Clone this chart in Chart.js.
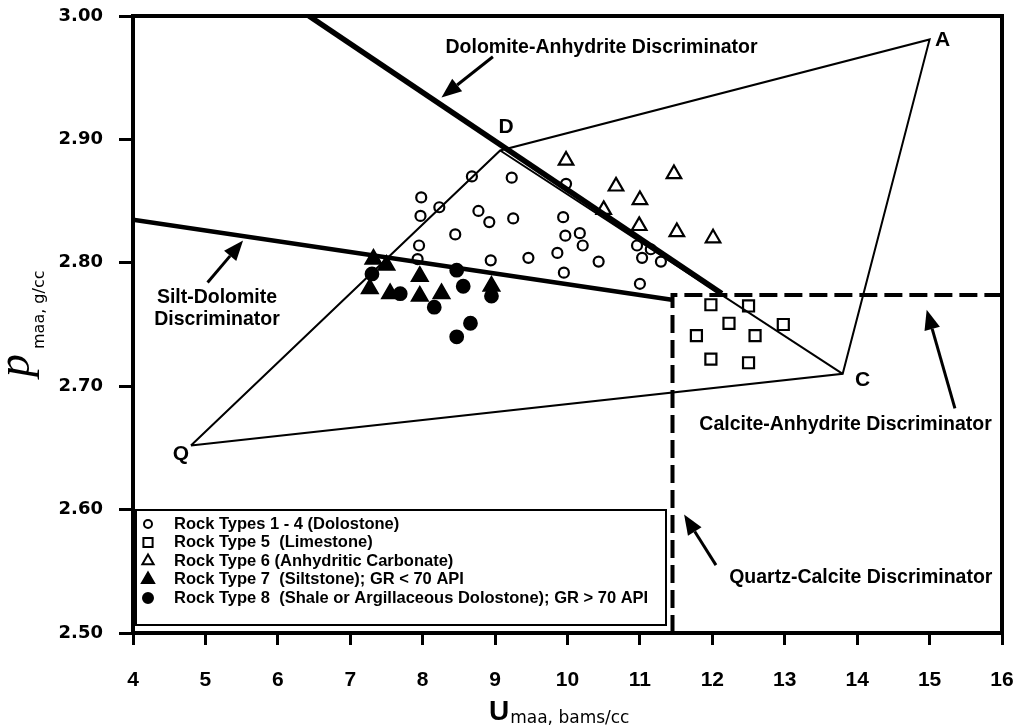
<!DOCTYPE html>
<html>
<head>
<meta charset="utf-8">
<script src="https://cdn.jsdelivr.net/npm/chart.js@4.4.1/dist/chart.umd.min.js"></script>
<style>
  html, body { margin: 0; padding: 0; background: #fff; }
</style>
</head>
<body>
<canvas id="myChart" width="1019" height="728"></canvas>
<script>
// Umaa (barns/cc) and rho_maa (g/cc) for each rock type
const dolostoneU = [8.68, 9.23, 7.98, 8.23, 7.97, 8.77, 8.92, 9.25, 8.45, 7.95, 7.93, 8.94, 9.46, 9.94,
  9.97, 10.17, 10.21, 9.86, 9.95, 10.43, 9.98, 10.96, 11.03, 11.15, 11.29, 11.00];
const dolostoneRho = [2.870, 2.869, 2.853, 2.845, 2.838, 2.842, 2.833, 2.836, 2.823, 2.814, 2.803, 2.802, 2.804, 2.837,
  2.822, 2.824, 2.814, 2.808, 2.792, 2.801, 2.864, 2.814, 2.804, 2.811, 2.801, 2.783];

const limestoneU = [11.98, 12.50, 12.23, 12.98, 11.78, 12.59, 11.98, 12.50];
const limestoneRho = [2.766, 2.765, 2.751, 2.750, 2.741, 2.741, 2.722, 2.719];

const anhydriticU = [9.98, 11.47, 10.67, 11.00, 10.50, 10.99, 11.51, 12.01];
const anhydriticRho = [2.883, 2.872, 2.862, 2.851, 2.843, 2.830, 2.825, 2.820];

const siltstoneU = [7.32, 7.50, 7.27, 7.55, 7.96, 7.96, 8.26, 8.95];
const siltstoneRho = [2.803, 2.798, 2.779, 2.775, 2.789, 2.773, 2.775, 2.781];

const shaleU = [7.30, 7.69, 8.16, 8.47, 8.56, 8.95, 8.66, 8.47];
const shaleRho = [2.791, 2.775, 2.764, 2.794, 2.781, 2.773, 2.751, 2.740];

// mineral end members: quartz, dolomite, anhydrite, calcite
const vertexNames = ['Q', 'D', 'A', 'C'];
const vertexU = [4.8, 9.07, 15.0, 13.8];
const vertexRho = [2.652, 2.891, 2.981, 2.710];

// discriminator lines
const dolAnhU = [6.43, 12.13];
const dolAnhRho = [3.00, 2.775];
const siltDolU = [4.0, 11.44];
const siltDolRho = [2.835, 2.770];
const cutoffU = [11.45, 11.45, 16.0];
const cutoffRho = [2.50, 2.774, 2.774];

const xTickValues = [4, 5, 6, 7, 8, 9, 10, 11, 12, 13, 14, 15, 16];
const xTickLabels = ['4', '5', '6', '7', '8', '9', '10', '11', '12', '13', '14', '15', '16'];
const yTickValues = [2.5, 2.6, 2.7, 2.8, 2.9, 3.0];
const yTickLabels = ['2.50', '2.60', '2.70', '2.80', '2.90', '3.00'];

const pairs = (us, rs) => us.map((u, i) => ({ x: u, y: rs[i] }));
const pick = (arr, idx) => idx.map(i => arr[i]);

function lineSet(us, rs, width, dash) {
  return {
    data: pairs(us, rs),
    showLine: true,
    borderColor: '#000',
    borderWidth: width,
    borderDash: dash || [],
    pointRadius: 0,
    fill: false,
    tension: 0,
    order: 0,
  };
}

function rockSet(label, us, rs, style, radius, filled, legendRadius) {
  return {
    label,
    data: pairs(us, rs),
    pointStyle: style,
    pointRadius: radius,
    pointBorderWidth: 2.2,
    pointBorderColor: '#000',
    pointBackgroundColor: filled ? '#000' : 'rgba(0,0,0,0)',
    showLine: false,
    order: 1,
    rock: { style, filled, legendRadius },
  };
}

const datasets = [
  rockSet('Rock Types 1 - 4 (Dolostone)', dolostoneU, dolostoneRho, 'circle', 5, false, 4),
  rockSet('Rock Type 5  (Limestone)', limestoneU, limestoneRho, 'rect', 7.8, false, 6.5),
  rockSet('Rock Type 6 (Anhydritic Carbonate)', anhydriticU, anhydriticRho, 'triangle', 8.4, false, 6.5),
  rockSet('Rock Type 7  (Siltstone); GR < 70 API', siltstoneU, siltstoneRho, 'triangle', 9, true, 7),
  rockSet('Rock Type 8  (Shale or Argillaceous Dolostone); GR > 70 API', shaleU, shaleRho, 'circle', 6.3, true, 5),
  lineSet(pick(vertexU, [0, 1, 2, 3, 0]), pick(vertexRho, [0, 1, 2, 3, 0]), 2),
  lineSet(pick(vertexU, [1, 3]), pick(vertexRho, [1, 3]), 2),
  lineSet(dolAnhU, dolAnhRho, 5.5),
  lineSet(siltDolU, siltDolRho, 4.5),
  lineSet(cutoffU, cutoffRho, 4, [18, 7]),
];

// text callouts and arrows, placed in data units
const notes = [
  { lines: ['Dolomite-Anhydrite Discriminator'], u: 10.47, rho: 2.974 },
  { lines: ['Silt-Dolomite', 'Discriminator'], u: 5.16, rho: 2.772 },
  { lines: ['Calcite-Anhydrite Discriminator'], u: 13.84, rho: 2.669 },
  { lines: ['Quartz-Calcite Discriminator'], u: 14.05, rho: 2.545 },
];
const arrows = [
  { from: [8.97, 2.967], to: [8.26, 2.934] },
  { from: [5.03, 2.784], to: [5.52, 2.818] },
  { from: [15.35, 2.682], to: [14.96, 2.762] },
  { from: [12.05, 2.555], to: [11.61, 2.596] },
];
const vertexLabelOffsets = [[-10, 9], [6, -23], [13, 1], [20, 6]];

const NOTE_FONT = 'bold 19.5px "Liberation Sans", Arial, sans-serif';

function marker(ctx, style, x, y, r, filled) {
  ctx.beginPath();
  if (style === 'circle') {
    ctx.arc(x, y, r, 0, Math.PI * 2);
  } else if (style === 'rect') {
    const s = r * Math.SQRT1_2;
    ctx.rect(x - s, y - s, 2 * s, 2 * s);
  } else {
    ctx.moveTo(x, y - r);
    ctx.lineTo(x + r * 0.866, y + r / 2);
    ctx.lineTo(x - r * 0.866, y + r / 2);
    ctx.closePath();
  }
  if (filled) ctx.fill();
  ctx.stroke();
}

function arrow(ctx, x1, y1, x2, y2) {
  const ang = Math.atan2(y2 - y1, x2 - x1);
  const len = 20, half = 8;
  const bx = x2 - Math.cos(ang) * len, by = y2 - Math.sin(ang) * len;
  ctx.lineWidth = 3;
  ctx.beginPath();
  ctx.moveTo(x1, y1);
  ctx.lineTo(bx, by);
  ctx.stroke();
  ctx.beginPath();
  ctx.moveTo(x2, y2);
  ctx.lineTo(bx + Math.sin(ang) * half, by - Math.cos(ang) * half);
  ctx.lineTo(bx - Math.sin(ang) * half, by + Math.cos(ang) * half);
  ctx.closePath();
  ctx.fill();
}

const decorations = {
  id: 'decorations',
  afterDraw(chart) {
    const { ctx, chartArea: area, scales: { x, y } } = chart;
    ctx.save();
    ctx.strokeStyle = '#000';
    ctx.fillStyle = '#000';

    // plot frame
    ctx.lineWidth = 4;
    ctx.strokeRect(area.left, area.top, area.right - area.left, area.bottom - area.top);

    // end member letters
    ctx.font = 'bold 21px "Liberation Sans", Arial, sans-serif';
    ctx.textAlign = 'center';
    ctx.textBaseline = 'middle';
    vertexNames.forEach((name, i) => {
      const [dx, dy] = vertexLabelOffsets[i];
      ctx.fillText(name, x.getPixelForValue(vertexU[i]) + dx, y.getPixelForValue(vertexRho[i]) + dy);
    });

    // discriminator callouts
    ctx.font = NOTE_FONT;
    notes.forEach(n => {
      const px = x.getPixelForValue(n.u);
      const py = y.getPixelForValue(n.rho);
      n.lines.forEach((t, k) => ctx.fillText(t, px, py + k * 22));
    });
    arrows.forEach(a => arrow(ctx,
      x.getPixelForValue(a.from[0]), y.getPixelForValue(a.from[1]),
      x.getPixelForValue(a.to[0]), y.getPixelForValue(a.to[1])));

    // legend box
    const lx = area.left + 3, ly = 510, lw = 530, lh = 115;
    ctx.fillStyle = '#fff';
    ctx.fillRect(lx, ly, lw, lh);
    ctx.lineWidth = 2;
    ctx.strokeRect(lx, ly, lw, lh);
    ctx.fillStyle = '#000';
    ctx.font = 'bold 16.5px "Liberation Sans", Arial, sans-serif';
    ctx.textAlign = 'left';
    chart.data.datasets.filter(d => d.rock).forEach((d, i) => {
      const ry = ly + 14 + i * 18.5;
      ctx.lineWidth = 2;
      marker(ctx, d.rock.style, lx + 12, ry, d.rock.legendRadius, d.rock.filled);
      ctx.fillText(d.label, lx + 38, ry);
    });

    // x axis title: U with subscript
    ctx.textBaseline = 'alphabetic';
    ctx.font = 'bold 28px "Liberation Sans", Arial, sans-serif';
    ctx.fillText('U', 489, 720);
    const uw = ctx.measureText('U').width;
    ctx.font = '17px "DejaVu Sans", sans-serif';
    ctx.fillText('maa, bams/cc', 489 + uw + 1, 723);

    // y axis title: rho with subscript, rotated
    ctx.translate(29, 377);
    ctx.rotate(-Math.PI / 2);
    ctx.font = 'italic 46px "Liberation Serif", "DejaVu Serif", serif';
    ctx.fillText('p', 0, 0);
    const pw = ctx.measureText('p').width;
    ctx.font = '16px "DejaVu Sans", sans-serif';
    ctx.fillText('maa, g/cc', pw + 5, 15);
    ctx.restore();
  },
};

new Chart(document.getElementById('myChart').getContext('2d'), {
  type: 'scatter',
  data: { datasets },
  options: {
    responsive: false,
    animation: false,
    devicePixelRatio: 1,
    layout: { padding: { left: 0, right: 17, top: 16, bottom: 0 } },
    plugins: { legend: { display: false }, tooltip: { enabled: false } },
    scales: {
      x: {
        type: 'linear',
        min: 4,
        max: 16,
        afterFit: s => { s.height = 95; s.paddingLeft = 0; s.paddingRight = 0; },
        afterBuildTicks: s => { s.ticks = xTickValues.map(value => ({ value })); },
        grid: { drawOnChartArea: false, drawTicks: true, tickLength: 12, tickWidth: 3, tickColor: '#000' },
        border: { display: true, color: '#000', width: 4 },
        ticks: {
          color: '#000',
          padding: 23,
          maxRotation: 0,
          font: { family: '"Liberation Sans", Arial, sans-serif', size: 21, weight: 'bold' },
          callback: (v, i) => xTickLabels[i],
        },
      },
      y: {
        type: 'linear',
        min: 2.5,
        max: 3.0,
        afterFit: s => { s.width = 133; s.paddingTop = 0; s.paddingBottom = 0; },
        afterBuildTicks: s => { s.ticks = yTickValues.map(value => ({ value })); },
        grid: { drawOnChartArea: false, drawTicks: true, tickLength: 14, tickWidth: 3, tickColor: '#000' },
        border: { display: true, color: '#000', width: 4 },
        ticks: {
          color: '#000',
          padding: 16,
          font: { family: '"DejaVu Sans", sans-serif', size: 18, weight: 'bold' },
          callback: (v, i) => yTickLabels[i],
        },
      },
    },
  },
  plugins: [decorations],
});
</script>
</body>
</html>
